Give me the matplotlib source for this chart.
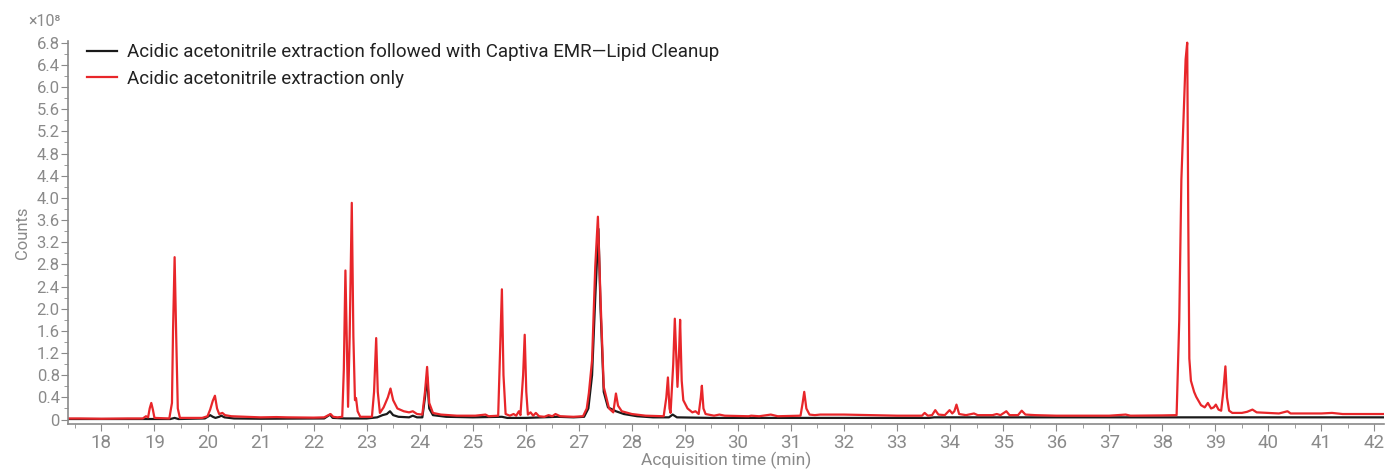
import numpy as np
import matplotlib
matplotlib.use('Agg')
import matplotlib.pyplot as plt
from matplotlib.ticker import MultipleLocator, FuncFormatter

plt.rcParams['font.family'] = ['Roboto', 'DejaVu Sans']

## Chromatogram traces (time in min, counts in 1e8)
red_t = [17.37, 17.6, 18.0, 18.5, 18.78, 18.84, 18.88, 18.91, 18.94, 18.97, 19.0,
         19.28, 19.33, 19.35, 19.38, 19.41, 19.44, 19.48, 19.9, 20.0, 20.05, 20.1,
         20.14, 20.18, 20.22, 20.28, 20.33, 20.45, 20.7, 21.0, 21.3, 21.5, 22.0,
         22.2, 22.28, 22.32, 22.37, 22.45, 22.54, 22.57, 22.60, 22.63, 22.65, 22.68,
         22.72, 22.75, 22.78, 22.80, 22.83, 22.88, 23.1, 23.14, 23.18, 23.21, 23.25,
         23.32, 23.4, 23.45, 23.5, 23.58, 23.7, 23.8, 23.87, 23.95, 24.05, 24.1,
         24.14, 24.18, 24.25, 24.4, 24.7, 25.05, 25.24, 25.3, 25.48, 25.52, 25.55,
         25.58, 25.62, 25.7, 25.77, 25.82, 25.87, 25.9, 25.95, 25.98, 26.01, 26.04,
         26.09, 26.14, 26.19, 26.25, 26.35, 26.43, 26.5, 26.56, 26.65, 26.9, 27.08,
         27.15, 27.19, 27.25, 27.31, 27.36, 27.41, 27.47, 27.57, 27.65, 27.70, 27.74,
         27.81, 28.0, 28.26, 28.6, 28.65, 28.68, 28.71, 28.73, 28.78, 28.81, 28.86,
         28.89, 28.91, 28.94, 28.97, 29.05, 29.14, 29.2, 29.26, 29.3, 29.32, 29.35,
         29.39, 29.55, 29.65, 29.75, 30.2, 30.25, 30.4, 30.62, 30.75, 31.18, 31.22,
         31.25, 31.29, 31.35, 31.45, 31.55, 32.0, 32.5, 33.0, 33.47, 33.52, 33.58,
         33.66, 33.72, 33.78, 33.9, 33.99, 34.04, 34.08, 34.12, 34.17, 34.3, 34.45,
         34.52, 34.8, 34.88, 34.95, 35.06, 35.12, 35.28, 35.35, 35.42, 35.6, 36.0,
         36.5, 37.0, 37.31, 37.4, 38.0, 38.2, 38.27, 38.32, 38.36, 38.40, 38.44,
         38.47, 38.49, 38.51, 38.54, 38.6, 38.64, 38.73, 38.8, 38.86, 38.92, 38.97,
         39.01, 39.06, 39.11, 39.15, 39.19, 39.22, 39.26, 39.32, 39.5, 39.6, 39.7,
         39.78, 40.0, 40.2, 40.36, 40.42, 40.8, 41.0, 41.2, 41.4, 41.7, 42.18]
red_y = [0.02, 0.02, 0.015, 0.02, 0.02, 0.06, 0.04, 0.2, 0.30, 0.18, 0.03,
         0.02, 0.3, 1.6, 2.93, 1.5, 0.2, 0.03, 0.03, 0.06, 0.18, 0.34,
         0.43, 0.2, 0.1, 0.12, 0.08, 0.06, 0.05, 0.04, 0.045, 0.04, 0.035,
         0.04, 0.08, 0.1, 0.05, 0.04, 0.05, 0.9, 2.69, 1.2, 0.23, 1.5,
         3.91, 1.5, 0.35, 0.39, 0.15, 0.05, 0.05, 0.5, 1.47, 0.5, 0.12,
         0.22, 0.4, 0.56, 0.35, 0.2, 0.15, 0.13, 0.15, 0.1, 0.09, 0.5,
         0.95, 0.3, 0.12, 0.09, 0.07, 0.07, 0.09, 0.06, 0.07, 1.4, 2.35,
         0.8, 0.1, 0.07, 0.1, 0.07, 0.15, 0.08, 0.8, 1.53, 0.5, 0.09,
         0.13, 0.07, 0.12, 0.06, 0.05, 0.08, 0.06, 0.1, 0.06, 0.05, 0.06,
         0.2, 0.48, 1.07, 2.76, 3.66, 2.16, 0.59, 0.2, 0.13, 0.47, 0.25,
         0.15, 0.1, 0.07, 0.06, 0.4, 0.76, 0.2, 0.12, 1.0, 1.82, 0.59,
         1.2, 1.80, 0.7, 0.35, 0.2, 0.13, 0.15, 0.1, 0.4, 0.61, 0.2,
         0.1, 0.07, 0.09, 0.07, 0.06, 0.07, 0.06, 0.09, 0.06, 0.07, 0.3,
         0.50, 0.2, 0.09, 0.08, 0.09, 0.09, 0.08, 0.07, 0.07, 0.12, 0.07,
         0.08, 0.17, 0.09, 0.08, 0.17, 0.11, 0.15, 0.27, 0.1, 0.08, 0.11,
         0.08, 0.08, 0.1, 0.08, 0.15, 0.08, 0.08, 0.16, 0.09, 0.08, 0.07,
         0.07, 0.07, 0.09, 0.07, 0.075, 0.08, 0.08, 1.8, 4.33, 5.42, 6.5,
         6.8, 3.6, 1.1, 0.7, 0.5, 0.41, 0.26, 0.22, 0.3, 0.2, 0.22,
         0.27, 0.18, 0.16, 0.5, 0.96, 0.4, 0.16, 0.12, 0.12, 0.14, 0.18,
         0.13, 0.12, 0.11, 0.15, 0.11, 0.11, 0.11, 0.12, 0.1, 0.1, 0.1]

black_t = [17.37, 18.8, 19.3, 19.38, 19.45, 19.95, 20.02, 20.05, 20.1, 20.15,
           20.22, 20.26, 20.32, 20.5, 21.0, 22.2, 22.28, 22.31, 22.36, 22.6,
           23.0, 23.2, 23.3, 23.38, 23.44, 23.5, 23.6, 23.8, 23.87, 23.95,
           24.05, 24.1, 24.14, 24.18, 24.25, 24.5, 25.0, 25.55, 25.65, 26.0,
           26.3, 26.6, 26.9, 27.1, 27.18, 27.25, 27.31, 27.37, 27.41, 27.47,
           27.55, 27.7, 27.85, 28.1, 28.4, 28.7, 28.77, 28.85, 29.5, 30.62,
           31.0, 33.6, 33.7, 35.0, 38.0, 42.18]
black_y = [0.01, 0.01, 0.01, 0.03, 0.01, 0.02, 0.06, 0.08, 0.05, 0.03,
           0.05, 0.07, 0.04, 0.02, 0.015, 0.02, 0.07, 0.09, 0.03, 0.02,
           0.02, 0.04, 0.08, 0.1, 0.15, 0.08, 0.05, 0.04, 0.07, 0.04,
           0.04, 0.4, 0.77, 0.2, 0.08, 0.05, 0.04, 0.05, 0.03, 0.03,
           0.04, 0.05, 0.04, 0.05, 0.2, 0.8, 2.2, 3.44, 2.0, 0.5,
           0.22, 0.15, 0.1, 0.06, 0.04, 0.04, 0.09, 0.04, 0.03, 0.03,
           0.03, 0.03, 0.04, 0.04, 0.04, 0.04]

labels = ['Acidic acetonitrile extraction followed with Captiva EMR\u2014Lipid Cleanup',
          'Acidic acetonitrile extraction only']

grey = '#8a8a8a'

fig = plt.figure(figsize=(13.85, 4.70), dpi=100)
ax = fig.add_axes([68/1385, 46/470, 1316/1385, 383/470])

ax.plot(black_t, black_y, color='#1a1a1a', lw=1.6, label=labels[0])
ax.plot(red_t, red_y, color='#e8262a', lw=1.6, label=labels[1])

ax.set_xlim(17.37, 42.18)
ax.set_ylim(-0.08, 6.83)

ax.xaxis.set_major_locator(MultipleLocator(1))
ax.xaxis.set_minor_locator(MultipleLocator(0.5))
ax.yaxis.set_major_locator(MultipleLocator(0.4))
ax.yaxis.set_minor_locator(MultipleLocator(0.2))
ax.yaxis.set_major_formatter(FuncFormatter(lambda v, p: '0' if abs(v) < 1e-9 else f'{v:.1f}'))

for s in ('top', 'right'):
    ax.spines[s].set_visible(False)
for s in ('left', 'bottom'):
    ax.spines[s].set_color(grey)
    ax.spines[s].set_linewidth(1.2)

ax.tick_params(axis='both', which='both', color=grey, labelcolor=grey)
ax.tick_params(axis='both', which='major', length=5)
ax.tick_params(axis='both', which='minor', length=3)
ax.tick_params(axis='x', labelsize=13.5, pad=2)
ax.tick_params(axis='y', labelsize=12, pad=1)

ax.set_xlabel('Acquisition time (min)', fontsize=12.5, color=grey, labelpad=0)
ax.set_ylabel('Counts', fontsize=12, color=grey, labelpad=5)

fig.text(44/1385, 1 - 21/470, '\u00d710\u2078', fontsize=11.5, color=grey, ha='center', va='center')

leg = ax.legend(loc='upper left', bbox_to_anchor=(19/1316, 1 - 2/383), frameon=False,
                fontsize=13.5, handlelength=1.6, handletextpad=0.55, borderaxespad=0,
                borderpad=0, labelspacing=0.46)
for t in leg.get_texts():
    t.set_color('#222222')

fig.savefig('out.png', dpi=100)
